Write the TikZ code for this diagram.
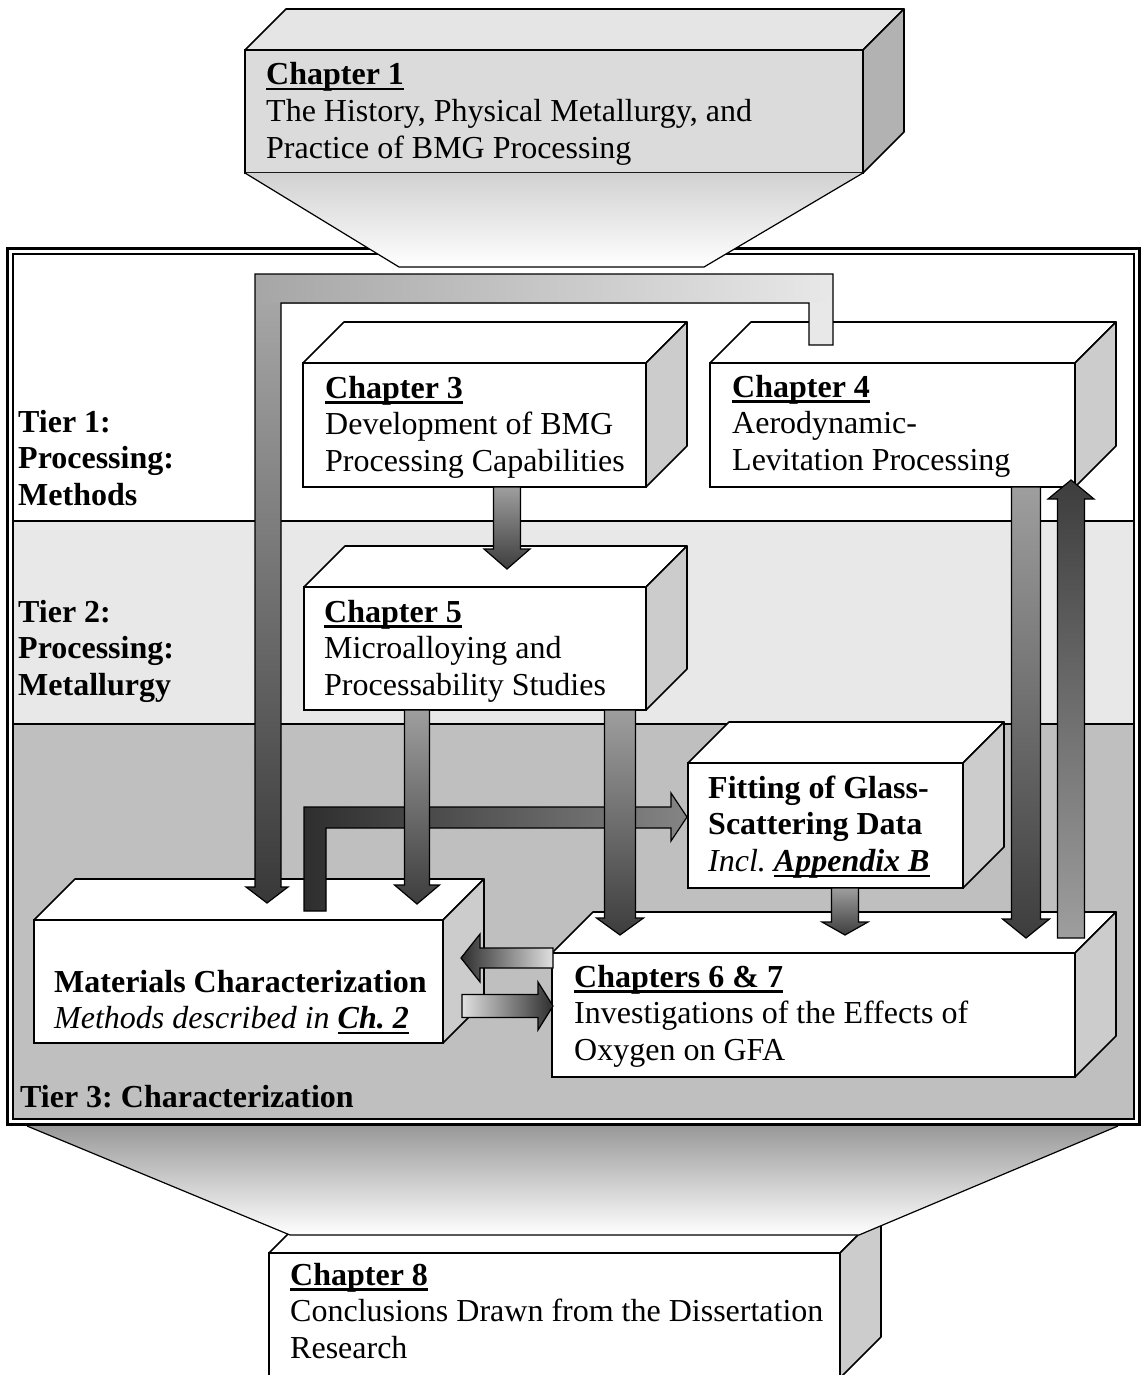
\documentclass[tikz,border=0pt]{standalone}
\usepackage{fontspec}
\setmainfont{Liberation Serif}
\usetikzlibrary{calc}
\tikzset{>=stealth}
\frenchspacing

\colorlet{tiertwo}{black!9}
\colorlet{tierthree}{black!25}

% underlined chapter heading, Word style
\newcommand{\chul}[1]{\setbox0\hbox{#1}\rlap{\rule[-5.5pt]{\wd0}{2.5pt}}\box0}
\newcommand{\txtlines}[1]{\begin{tabular}[t]{@{}l@{}}#1\end{tabular}}
% block with top and side face: name, x, y, width, height
\newcommand{\chbox}[5]{%
  \node[boxfront, minimum width=#4pt, minimum height=#5pt] (#1) at (#2,#3) {};
  \filldraw[boxtop] (#1.north west) -- ++(41,-41) -- ++(#4,0) -- (#1.north east) -- cycle;
  \filldraw[boxside] (#1.north east) -- ++(41,-41) -- ++(0,#5) -- (#1.south east) -- cycle;
}
% block arrows: style, from, to, shaft half width, head half width, head length
\newcommand{\vblock}[6][]{%
  \draw[blockline,#1] let \p1=(#2), \p2=(#3),
      \n1={ifthenelse(\y1>\y2,\y2+#6,\y2-#6)} in
    ({\x1-#4},\y1) -- ({\x1-#4},{\n1*1pt}) -- ({\x1-#5},{\n1*1pt}) -- (\x1,\y2)
    -- ({\x1+#5},{\n1*1pt}) -- ({\x1+#4},{\n1*1pt}) -- ({\x1+#4},\y1) -- cycle;
}
\newcommand{\hblock}[6][]{%
  \draw[blockline,#1] let \p1=(#2), \p2=(#3),
      \n1={ifthenelse(\x1>\x2,\x2+#6,\x2-#6)} in
    (\x1,{\y1-#4}) -- ({\n1*1pt},{\y1-#4}) -- ({\n1*1pt},{\y1-#5}) -- (\x2,\y1)
    -- ({\n1*1pt},{\y1+#5}) -- ({\n1*1pt},{\y1+#4}) -- (\x1,{\y1+#4}) -- cycle;
}

\begin{document}
\begin{tikzpicture}[x=1pt,y=-1pt,
    boxfront/.style={draw, line width=1.6pt, fill=white, anchor=north west, inner sep=0pt, outer sep=0pt},
    boxtop/.style={draw, line width=1.6pt, fill=white, line join=round},
    boxside/.style={draw, line width=1.6pt, fill=black!20, line join=round},
    blockline/.style={draw=black, line width=1.2pt},
    downshade/.style={top color=black!38, bottom color=black!76},
    upshade/.style={top color=black!76, bottom color=black!38},
    txt/.style={inner sep=0pt, anchor=base west, font=\fontsize{32}{36.8}\selectfont}]
  \useasboundingbox (0,0) rectangle (1142,1375);

  % tiers
  \fill[white] (13,254) rectangle (1134,521);
  \fill[tiertwo] (13,521) rectangle (1134,724);
  \fill[tierthree] (13,724) rectangle (1134,1119);
  \draw[line width=1.5pt] (13,521) -- (1134,521) (13,724) -- (1134,724);
  \draw[line width=3pt] (7.5,248.5) rectangle (1139.5,1124.5);
  \draw[line width=1.2pt] (13,254) rectangle (1134,1119);

  % chapter 1 and its funnel
  \begin{scope}[boxfront/.append style={fill=black!14}, boxtop/.append style={fill=black!10},
      boxside/.append style={fill=black!30}]
    \chbox{ch1}{245}{50}{618}{123}
  \end{scope}
  \draw[line width=1.2pt, top color=black!18, bottom color=white]
    (ch1.south west) -- (399,267) -- (704,267) -- (ch1.south east);

  % chapter 8 behind the lower funnel
  \chbox{ch8}{269}{1253}{571}{125}
  \draw[line width=1.2pt, top color=black!40, bottom color=white]
    (27,1126) -- (290,1235) -- (859,1235) -- (1118,1126);

  \chbox{ch3}{303}{363}{343}{124}
  \chbox{ch4}{710}{363}{365}{124}
  \chbox{ch5}{304}{587}{342}{123}
  \chbox{fit}{688}{763}{275}{125}
  \chbox{mat}{34}{920}{409}{123}
  \chbox{ch67}{552}{953}{523}{124}

  % texts
  \node[txt] (ch1-txt) at ($(ch1.north west)+(21,35)$)
    {\txtlines{\chul{\textbf{Chapter 1}}\\The History, Physical Metallurgy, and\\Practice of BMG Processing}};
  \node[txt] (ch3-txt) at ($(ch3.north west)+(22,35)$)
    {\txtlines{\chul{\textbf{Chapter 3}}\\Development of BMG\\Processing Capabilities}};
  \node[txt] (ch4-txt) at ($(ch4.north west)+(22,34)$)
    {\txtlines{\chul{\textbf{Chapter 4}}\\Aerodynamic-\\Levitation Processing}};
  \node[txt] (ch5-txt) at ($(ch5.north west)+(20,35)$)
    {\txtlines{\chul{\textbf{Chapter 5}}\\Microalloying and\\Processability Studies}};
  \node[txt] (fit-txt) at ($(fit.north west)+(20,35)$)
    {\txtlines{\textbf{Fitting of Glass-}\\\textbf{Scattering Data}\\\textit{Incl. \chul{\textbf{Appendix B}}}}};
  \node[txt] (mat-txt) at ($(mat.north west)+(20,72)$)
    {\txtlines{\textbf{Materials Characterization}\\\textit{Methods described in \chul{\textbf{Ch. 2}}}}};
  \node[txt] (ch67-txt) at ($(ch67.north west)+(22,34)$)
    {\txtlines{\chul{\textbf{Chapters 6 \& 7}}\\Investigations of the Effects of\\Oxygen on GFA}};
  \node[txt] (ch8-txt) at ($(ch8.north west)+(21,32)$)
    {\txtlines{\chul{\textbf{Chapter 8}}\\Conclusions Drawn from the Dissertation\\Research}};
  \node[txt] (tier1) at (18,432) {\txtlines{\textbf{Tier 1:}\\\textbf{Processing:}\\\textbf{Methods}}};
  \node[txt] (tier2) at (18,622) {\txtlines{\textbf{Tier 2:}\\\textbf{Processing:}\\\textbf{Metallurgy}}};
  \node[txt] (tier3) at (20,1107) {\textbf{Tier 3: Characterization}};

  % long bent arrow from chapter 4 to characterization
  \coordinate (a1s) at ($(ch4.north west)+(123,-18)$);
  \coordinate (a1t) at ($(mat.north west)+(233,-17)$);
  \shade[left color=black!35, right color=black!9] (255,274) rectangle (833,303);
  \shade[top color=black!35, bottom color=black!78]
    (255,303) -- (255,887) -- (246,887) -- (a1t) -- (288,887) -- (281,887) -- (281,303) -- cycle;
  \fill[black!9] (809,303) rectangle (a1s);
  \draw[blockline] (a1s) -- (833,274) -- (255,274) -- (255,887) -- (246,887) -- (a1t)
    -- (288,887) -- (281,887) -- (281,303) -- (809,303) -- (809,345) -- cycle;

  % bent arrow from characterization to fitting
  \coordinate (a5s) at ($(mat.north west)+(270,-9)$);
  \coordinate (a5t) at ($(fit.north west)+(-1,54)$);
  \draw[blockline, left color=black!82, right color=black!48] (a5s) -- (304,807) -- (671,807)
    -- (671,793) -- (a5t) -- (671,841) -- (671,828) -- (326,828) -- (326,911) -- cycle;

  % straight arrows
  \coordinate (a2s) at ($(ch3.south west)+(204,0)$);
  \coordinate (a2t) at ($(ch5.north west)+(203,-18)$);
  \vblock[downshade]{a2s}{a2t}{13.5}{23}{20}
  \coordinate (a3s) at ($(ch5.south west)+(113,0)$);
  \coordinate (a3t) at ($(mat.north west)+(383,-16)$);
  \vblock[downshade]{a3s}{a3t}{12.5}{22.5}{19}
  \coordinate (a4s) at ($(ch5.south west)+(316,0)$);
  \coordinate (a4t) at ($(ch67.north west)+(68,-18)$);
  \vblock[downshade]{a4s}{a4t}{15.5}{23.5}{17}
  \coordinate (a6s) at ($(fit.south west)+(157,0)$);
  \coordinate (a6t) at ($(ch67.north west)+(293,-18)$);
  \vblock[downshade]{a6s}{a6t}{13.5}{23}{13}
  \coordinate (a7s) at ($(ch4.south west)+(316,0)$);
  \coordinate (a7t) at ($(ch67.north west)+(474,-15)$);
  \vblock[downshade]{a7s}{a7t}{14.5}{23.5}{19}
  \coordinate (a8s) at ($(ch67.north west)+(519,-15)$);
  \coordinate (a8t) at ($(ch4.south west)+(361,-7)$);
  \vblock[upshade]{a8s}{a8t}{13.5}{23}{19}
  \coordinate (a9s) at ($(ch67.north west)+(1,5)$);
  \coordinate (a9t) at ($(mat.north east)+(18,38)$);
  \hblock[left color=black!82, right color=black!12]{a9s}{a9t}{10}{24}{19}
  \coordinate (a10s) at ($(mat.north east)+(19,86)$);
  \coordinate (a10t) at ($(ch67.north west)+(1,53)$);
  \hblock[left color=black!12, right color=black!82]{a10s}{a10t}{11.5}{24}{15}
\end{tikzpicture}
\end{document}
